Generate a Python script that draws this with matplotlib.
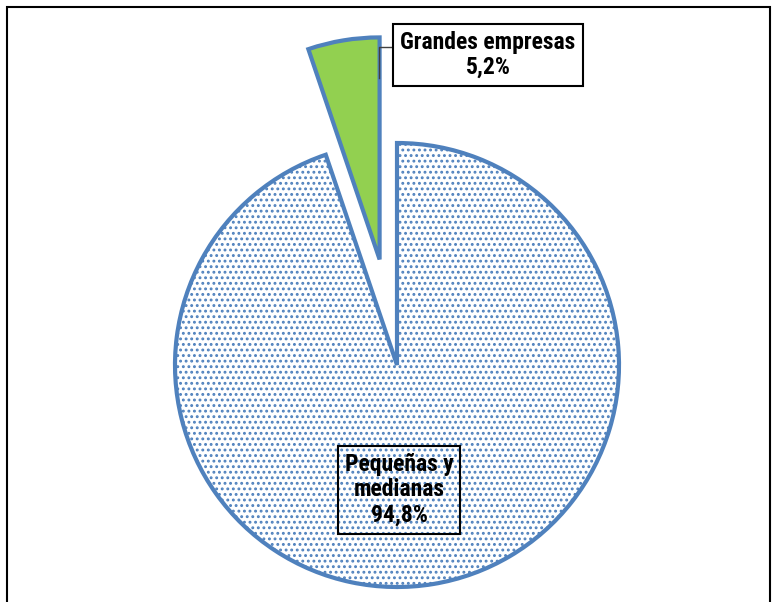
import matplotlib
matplotlib.use('Agg')
import matplotlib.pyplot as plt
from matplotlib.patches import Rectangle

# shares of companies
labels = ['Pequeñas y\nmedianas', 'Grandes empresas']
shares = [94.8, 5.2]
share_texts = ['94,8%', '5,2%']

W, H = 776, 602
fig = plt.figure(figsize=(W / 100, H / 100), dpi=100)
ax = fig.add_axes([0, 0, 1, 1])

plt.rcParams['hatch.linewidth'] = 1.3

wedges, _ = ax.pie(shares, startangle=90, counterclock=False,
                   explode=[0, 107], center=(397, H - 365), radius=222,
                   colors=['white', '#92D050'],
                   wedgeprops=dict(edgecolor='#4F81BD', linewidth=3))
wedges[0].set_hatch('...')
ax.set_aspect('auto')
ax.set_xlim(0, W)
ax.set_ylim(0, H)
ax.axis('off')

font = dict(family=['Liberation Sans Narrow', 'Roboto Condensed', 'Liberation Sans'],
            fontweight='bold', fontsize=17)
box = dict(boxstyle='square,pad=0.3', facecolor='none', edgecolor='black', linewidth=1.5)
ax.text(399, H - 490, labels[0] + '\n' + share_texts[0], ha='center', va='center',
        linespacing=1.15, bbox=box, **font)
ax.text(488, H - 55, labels[1] + '\n' + share_texts[1], ha='center', va='center',
        linespacing=1.1, bbox=dict(box, facecolor='white'), **font)
# leader line
ax.plot([379, 379, 391], [H - 78, H - 47, H - 47], color='#404040', lw=1)

# chart frame
fig.patches.append(Rectangle((7 / W, -0.05), (770 - 7) / W, 1.05 - 7 / H,
                             transform=fig.transFigure, fill=False,
                             edgecolor='black', linewidth=1.5))

fig.savefig('out.png', dpi=100)
